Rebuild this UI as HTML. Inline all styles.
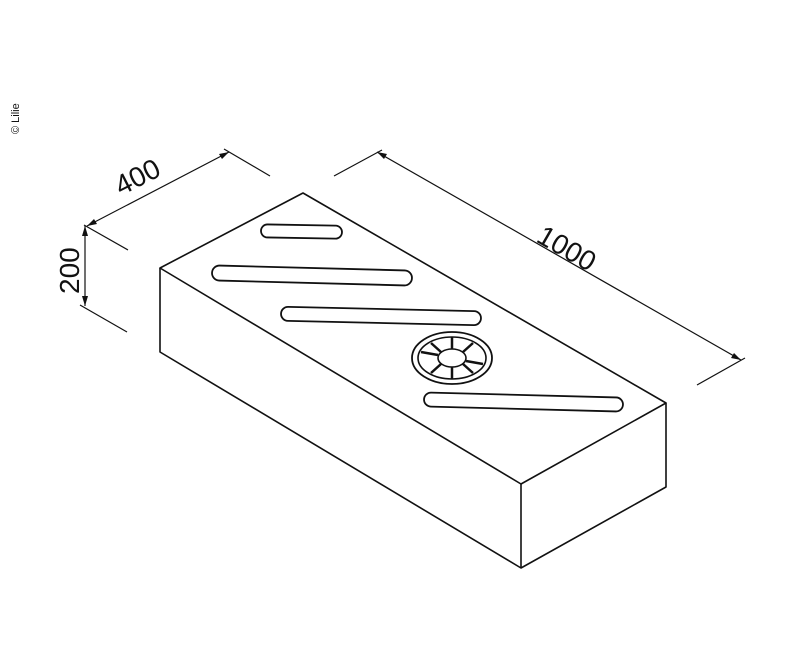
<!DOCTYPE html>
<html><head><style>body{margin:0;background:#fff}svg{display:block}</style></head><body>
<svg width="800" height="657" viewBox="0 0 800 657" xmlns="http://www.w3.org/2000/svg">
<g fill="none" stroke="#111" stroke-width="1.6" stroke-linejoin="round">
<polygon points="160,268 303,193 666,403 521,484"/>
<polyline points="160,268 160,352 521,568 666,487 666,403"/>
<line x1="521" y1="484" x2="521" y2="568"/>
<g stroke-width="1.8">
<rect x="261" y="225" width="81" height="13" rx="6.5" transform="rotate(1 300 231)"/>
<rect x="212" y="268" width="200" height="15" rx="7.5" transform="rotate(1.5 312 275)"/>
<rect x="281" y="309" width="200" height="14" rx="7" transform="rotate(1.3 381 316)"/>
<rect x="424" y="395" width="199" height="14" rx="7" transform="rotate(1.5 523 402)"/>
</g>
<ellipse cx="452" cy="358" rx="40" ry="26" stroke-width="1.8"/>
<ellipse cx="452" cy="358" rx="34" ry="21"/>
<ellipse cx="452" cy="358" rx="14" ry="9"/>
<g stroke-width="2.5">
<line x1="452" y1="337" x2="452" y2="349"/>
<line x1="452" y1="367" x2="452" y2="379"/>
<line x1="421" y1="352" x2="438" y2="355"/>
<line x1="466" y1="361" x2="483" y2="364"/>
<line x1="431" y1="373" x2="441" y2="364"/>
<line x1="463" y1="352" x2="473" y2="343"/>
<line x1="431" y1="343" x2="441" y2="352"/>
<line x1="463" y1="364" x2="473" y2="373"/>
</g>
<g stroke-width="1.2">
<line x1="84" y1="225" x2="128" y2="250"/>
<line x1="224" y1="149" x2="270" y2="176"/>
<line x1="87" y1="226" x2="229" y2="152"/>
<line x1="85" y1="226" x2="85" y2="306"/>
<line x1="80" y1="305" x2="127" y2="332"/>
<line x1="334" y1="176" x2="382" y2="150"/>
<line x1="697" y1="385" x2="745" y2="358"/>
<line x1="377" y1="152" x2="741" y2="360"/>
</g>
</g>
<g fill="#111">
<polygon points="229,152 219,154 222,159"/>
<polygon points="87,226 97,224 94,219"/>
<polygon points="85,226 82,236 88,236"/>
<polygon points="85,306 82,296 88,296"/>
<polygon points="377,152 384,159 387,154"/>
<polygon points="741,360 731,358 734,353"/>
</g>
<g font-family="Liberation Sans, sans-serif" fill="#111">
<text x="0" y="0" font-size="28" transform="translate(121,196) rotate(-27)">400</text>
<text x="0" y="0" font-size="28" transform="translate(79,294) rotate(-90)">200</text>
<text x="0" y="0" font-size="28" transform="translate(535,241) rotate(30)">1000</text>
<text x="0" y="0" font-size="11" transform="translate(19,134) rotate(-90)">© Lilie</text>
</g>
</svg>
</body></html>
